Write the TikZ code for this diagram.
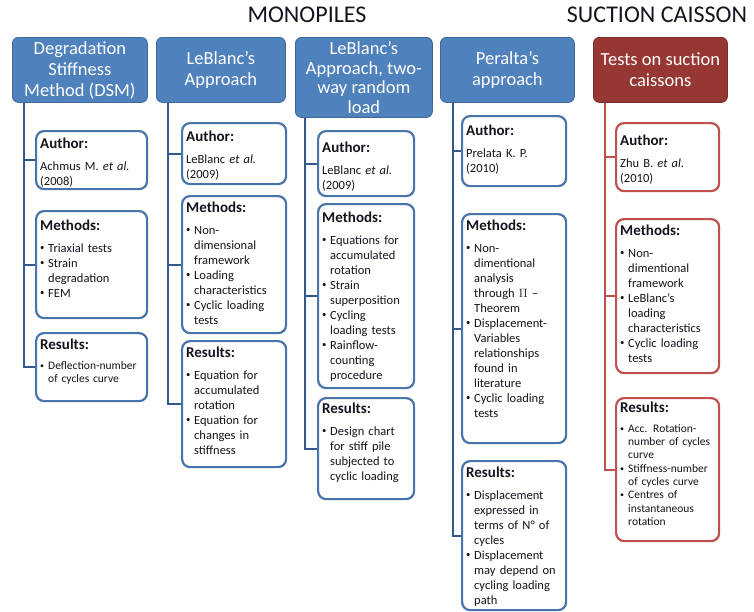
\documentclass[tikz,border=0pt]{standalone}
\usepackage{fontspec}
\setmainfont{Carlito}
\usetikzlibrary{positioning,calc}
\definecolor{ocean}{RGB}{79,129,189}
\definecolor{navy}{RGB}{52,88,140}
\definecolor{wine}{RGB}{150,55,52}
\definecolor{brick}{RGB}{192,80,77}
\definecolor{ink}{RGB}{20,20,30}
\setlength{\parindent}{0pt}
\newcommand\titl[1]{{\fontsize{15}{15}\selectfont\bfseries #1}\par\vspace{7pt}}
% bullet with hanging lines
\newcommand\bul[1]{\par\makebox[8pt][l]{\raisebox{0.1em}{\scalebox{0.7}{\textbullet}}}%
  \parbox[t]{\dimexpr\hsize-8pt\relax}{\raggedright #1\strut}\par\prevdepth=\dp\strutbox}
\tikzset{
  head/.style={fill=#1,draw=#1!80!black,line width=0.8pt,rounded corners=6pt,text=white,
    align=center,font=\fontsize{18.5}{21}\selectfont,inner sep=1pt,anchor=north west},
  head/.default=ocean,
  card/.style={draw=#1,fill=white,line width=2.2pt,rounded corners=8pt,anchor=north west,inner sep=0pt},
  card/.default=ocean!90!black,
  txt/.style={anchor=base west,text width=#1,align=left,inner sep=0pt,text=ink,
    font=\fontsize{12.5}{15}\selectfont},
  txt/.default=98,
  smalltxt/.style={font=\fontsize{11.5}{13.3}\selectfont},
  trunk/.style={draw=#1,line width=2.2pt},
  trunk/.default=navy,
  sect/.style={font=\fontsize{24}{24}\selectfont,text=ink,anchor=base}
}
\begin{document}
\begin{tikzpicture}[x=1pt,y=-1pt]
  \useasboundingbox (0,0) rectangle (754,611);
  % section titles
  \node[sect] (mono) at (307,22) {MONOPILES};
  \node[sect] (suct) at (657,22) {SUCTION CAISSON};
  % top boxes
  \node[head,minimum width=135,minimum height=65] (h1) at (12,37) {Degradation\\Stiffness\\Method (DSM)};
  \node[head,minimum width=129,minimum height=65] (h2) at (156,37) {LeBlanc’s\\Approach};
  \node[head,minimum width=137,minimum height=80,font=\fontsize{18.5}{19.5}\selectfont] (h3) at (295,37) {LeBlanc’s\\Approach, two-\\way random\\load};
  \node[head,minimum width=134,minimum height=65] (h4) at (440,37) {Peralta’s\\approach};
  \node[head=wine,minimum width=134,minimum height=65] (h5) at (593,37) {Tests on suction\\caissons};

  % DSM
  \node[card,minimum width=111,minimum height=58] (a1) at (35,130) {};
  \node[txt=104] (a1t) at ([shift={(5,18)}]a1.north west) {\titl{Author:}Achmus M. \textit{et al.}\\(2008)};
  \node[card,minimum width=111,minimum height=107] (m1) at (35,210) {};
  \node[txt=104] (m1t) at ([shift={(5,20)}]m1.north west) {\titl{Methods:}\bul{Triaxial tests}\bul{Strain\\degradation}\bul{FEM}};
  \node[card,minimum width=111,minimum height=68] (r1) at (35,332) {};
  \node[txt=104,smalltxt] (r1t) at ([shift={(5,17)}]r1.north west) {\titl{Results:}\bul{Deflection-number\\of cycles curve}};

  % LeBlanc
  \node[card,minimum width=104,minimum height=61] (a2) at (181,122) {};
  \node[txt] (a2t) at ([shift={(5,19)}]a2.north west) {\titl{Author:}LeBlanc \textit{et al.}\\(2009)};
  \node[card,minimum width=104,minimum height=137] (m2) at (181,195) {};
  \node[txt] (m2t) at ([shift={(5,17)}]m2.north west) {\titl{Methods:}\bul{Non-\\dimensional\\framework}\bul{Loading\\characteristics}\bul{Cyclic loading\\tests}};
  \node[card,minimum width=104,minimum height=126] (r2) at (181,340) {};
  \node[txt] (r2t) at ([shift={(5,17)}]r2.north west) {\titl{Results:}\bul{Equation for\\accumulated\\rotation}\bul{Equation for\\changes in\\stiffness}};

  % LeBlanc, two-way
  \node[card,minimum width=96,minimum height=65] (a3) at (317,130) {};
  \node[txt=90] (a3t) at ([shift={(5,22)}]a3.north west) {\titl{Author:}LeBlanc \textit{et al.}\\(2009)};
  \node[card,minimum width=96,minimum height=184] (m3) at (317,203) {};
  \node[txt=90] (m3t) at ([shift={(5,19)}]m3.north west) {\titl{Methods:}\bul{Equations for\\accumulated\\rotation}\bul{Strain\\superposition}\bul{Cycling\\loading tests}\bul{Rainflow-\\counting\\procedure}};
  \node[card,minimum width=96,minimum height=101] (r3) at (317,397) {};
  \node[txt=90] (r3t) at ([shift={(5,16)}]r3.north west) {\titl{Results:}\bul{Design chart\\for stiff pile\\subjected to\\cyclic loading}};

  % Peralta
  \node[card,minimum width=104,minimum height=70] (a4) at (461,115) {};
  \node[txt] (a4t) at ([shift={(5,20)}]a4.north west) {\titl{Author:}Prelata K. P.\\(2010)};
  \node[card,minimum width=104,minimum height=229] (m4) at (461,213) {};
  \node[txt] (m4t) at ([shift={(5,17)}]m4.north west) {\titl{Methods:}\bul{Non-\\dimentional\\analysis\\through $\Pi$ –\\Theorem}\bul{Displacement-\\Variables\\relationships\\found in\\literature}\bul{Cyclic loading\\tests}};
  \node[card,minimum width=104,minimum height=149] (r4) at (461,460) {};
  \node[txt] (r4t) at ([shift={(5,17)}]r4.north west) {\titl{Results:}\bul{Displacement\\expressed in\\terms of N° of\\cycles}\bul{Displacement\\may depend on\\cycling loading\\path}};

  % suction caissons
  \node[card=brick,minimum width=103,minimum height=68] (a5) at (615,122) {};
  \node[txt] (a5t) at ([shift={(5,23)}]a5.north west) {\titl{Author:}Zhu B. \textit{et al.}\\(2010)};
  \node[card=brick,minimum width=103,minimum height=154] (m5) at (615,218) {};
  \node[txt] (m5t) at ([shift={(5,17)}]m5.north west) {\titl{Methods:}\bul{Non-\\dimentional\\framework}\bul{LeBlanc’s\\loading\\characteristics}\bul{Cyclic loading\\tests}};
  \node[card=brick,minimum width=103,minimum height=143] (r5) at (615,397) {};
  \node[txt,smalltxt] (r5t) at ([shift={(5,15)}]r5.north west) {\titl{Results:}\bul{Acc. Rotation-\\number of cycles\\curve}\bul{Stiffness-number\\of cycles curve}\bul{Centres of\\instantaneous\\rotation}};

  % trunks
  \foreach \h/\s/\c in {h1/12/1,h2/12/2,h3/10/3,h4/13/4}
    \foreach \b in {a,m,r}
      \draw[trunk] ([xshift=\s]\h.south west) |- (\b\c.west);
  \foreach \b in {a5,m5,r5}
    \draw[trunk=brick] ([xshift=12]h5.south west) |- (\b.west);
\end{tikzpicture}
\end{document}
